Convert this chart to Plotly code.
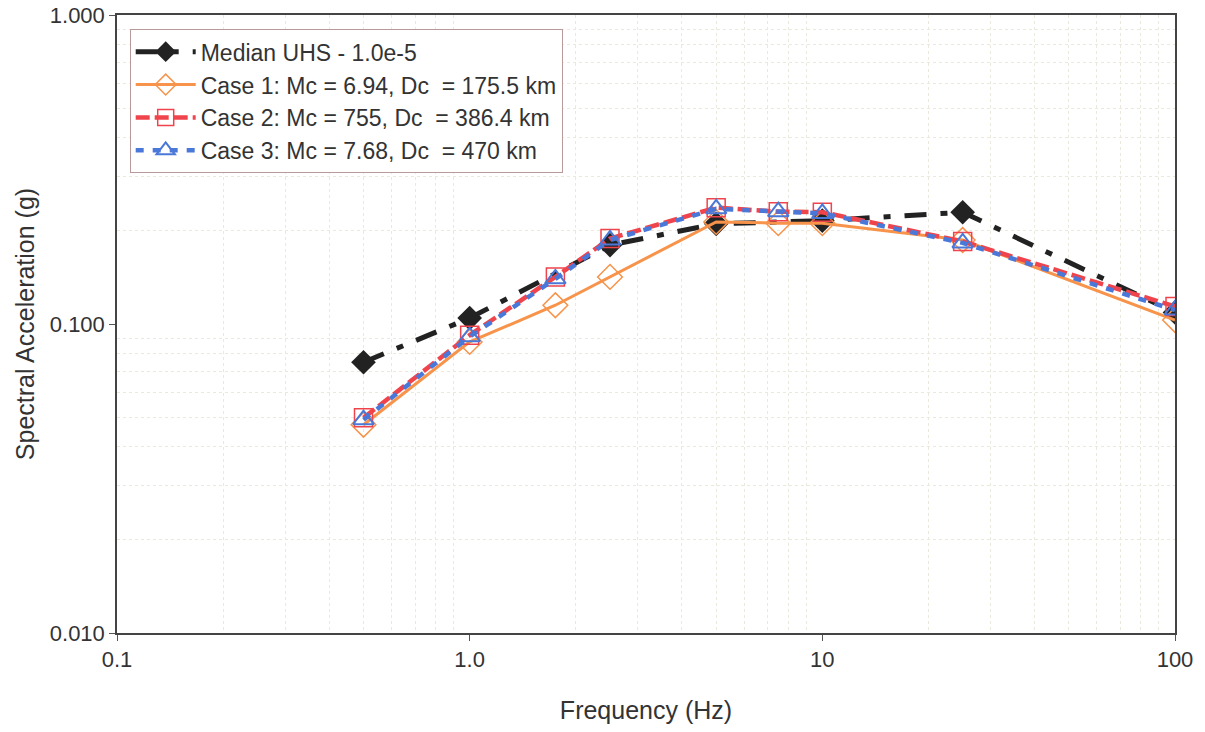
import plotly.graph_objects as go

freq_all = [0.5, 1.0, 1.75, 2.5, 5.0, 7.5, 10.0, 25.0, 100.0]
freq_uhs = [0.5, 1.0, 2.5, 5.0, 10.0, 25.0, 100.0]

median_uhs = [0.0752, 0.1045, 0.180, 0.211, 0.216, 0.230, 0.109]
case1 = [0.0472, 0.0875, 0.115, 0.142, 0.214, 0.212, 0.212, 0.187, 0.103]
case2 = [0.0497, 0.092, 0.142, 0.189, 0.238, 0.231, 0.230, 0.185, 0.114]
case3 = [0.0490, 0.091, 0.140, 0.187, 0.236, 0.231, 0.228, 0.183, 0.111]

names = ["Median UHS - 1.0e-5",
         "Case 1: Mc = 6.94, Dc  = 175.5 km",
         "Case 2: Mc = 755, Dc  = 386.4 km",
         "Case 3: Mc = 7.68, Dc  = 470 km"]

x_tickvals = [0.1, 1, 10, 100]
x_ticktext = ["0.1", "1.0", "10", "100"]
y_tickvals = [0.01, 0.1, 1]
y_ticktext = ["0.010", "0.100", "1.000"]

x_minor = [m * 10 ** e for e in (-1, 0, 1) for m in range(2, 10)]
y_minor = [m * 10 ** e for e in (-2, -1) for m in range(2, 10)]

FONT = "Liberation Sans, Arial, sans-serif"

fig = go.Figure()
fig.add_trace(go.Scatter(
    x=freq_uhs, y=median_uhs, name=names[0], mode="lines+markers",
    line=dict(color="#222222", width=5, dash="22px,14px,7px,14px"),
    marker=dict(symbol="diamond", size=19, color="#222222")))
fig.add_trace(go.Scatter(
    x=freq_all, y=case1, name=names[1], mode="lines+markers",
    line=dict(color="#f7934a", width=3),
    marker=dict(symbol="diamond-open", size=19, color="#f7934a", line=dict(width=1.5))))
fig.add_trace(go.Scatter(
    x=freq_all, y=case2, name=names[2], mode="lines+markers",
    line=dict(color="#f0444c", width=4.5, dash="14px,5px"),
    marker=dict(symbol="square-open", size=18, color="#f0444c", line=dict(width=1.5))))
fig.add_trace(go.Scatter(
    x=freq_all, y=case3, name=names[3], mode="lines+markers",
    line=dict(color="#4a78d8", width=4.5, dash="8px,9px"),
    marker=dict(symbol="triangle-up-open", size=18, color="#4a78d8", line=dict(width=2))))

fig.update_layout(
    width=1205, height=732,
    margin=dict(l=117, r=30, t=15, b=99),
    paper_bgcolor="white", plot_bgcolor="white",
    font=dict(family=FONT, size=22, color="#333333"),
    showlegend=True,
    legend=dict(x=0.012, y=0.977, xanchor="left", yanchor="top",
                bgcolor="white", bordercolor="#b89a9a", borderwidth=1,
                font=dict(family=FONT, size=23, color="#333333"),
                itemwidth=60),
    xaxis=dict(type="log", range=[-1, 2], tickvals=x_tickvals, ticktext=x_ticktext,
               showgrid=False, ticks="outside", ticklen=6, tickcolor="#555555",
               showline=True, linecolor="#444444", linewidth=1.5, mirror=True,
               zeroline=False, tickfont=dict(size=22), automargin=False,
               title=dict(text="Frequency (Hz)", font=dict(size=25), standoff=30),
               minor=dict(tickmode="array", tickvals=x_minor, showgrid=True,
                          gridcolor="#ebe8de", griddash="dot", gridwidth=1, ticks="")),
    yaxis=dict(type="log", range=[-2, 0], tickvals=y_tickvals, ticktext=y_ticktext,
               showgrid=False, ticks="outside", ticklen=6, tickcolor="#555555",
               showline=True, linecolor="#444444", linewidth=1.5, mirror=True,
               zeroline=False, tickfont=dict(size=22), automargin=False,
               title=dict(text="Spectral Acceleration (g)", font=dict(size=25), standoff=8),
               minor=dict(tickmode="array", tickvals=y_minor, showgrid=True,
                          gridcolor="#ebe8de", griddash="dot", gridwidth=1, ticks="")),
)

fig.write_html("out.html")
